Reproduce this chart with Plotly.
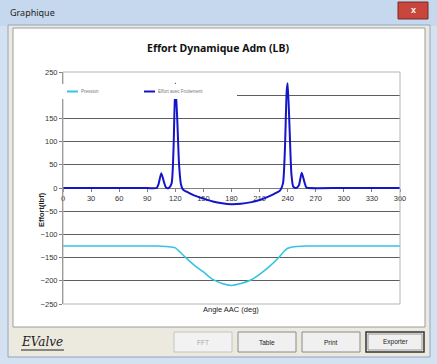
import plotly.graph_objects as go

# ---- data ----
angle_effort = [0, 90, 100, 102, 105, 108, 110, 113, 116, 118, 120, 122, 124, 126, 128, 132, 140, 150, 160, 170,
                180, 190, 200, 210, 220, 228, 232, 235, 237, 239, 240, 242, 244, 246, 249, 252, 255, 258, 260, 262, 300, 360]
effort = [0, 0, 0, 8, 32, 12, 1, 0, 10, 80, 225, 150, 50, 8, -3, -8, -16, -23, -29, -33,
          -35, -34, -31, -26, -18, -10, -5, 10, 80, 210, 226, 130, 30, 3, 0, 6, 33, 12, 1, 0, 0, 0]

angle_pression = [0, 30, 60, 90, 100, 110, 115, 120, 125, 130, 140, 150, 160, 170, 180, 190, 200, 210, 220,
                  230, 235, 240, 245, 250, 260, 300, 360]
pression = [-125, -125, -125, -125, -125, -126, -127, -129, -138, -148, -166, -181, -197, -206, -210, -206, -199,
            -186, -170, -151, -139, -130, -127, -126, -125, -125, -125]

x_ticks = list(range(0, 361, 30))
y_ticks = list(range(-250, 251, 50))

series_names = ["Pression", "Effort avec Frottement"]
title_text = "Effort Dynamique Adm (LB)"
x_title = "Angle AAC (deg)"
y_title = "Effort(lbf)"

# ---- layout geometry (pixels) ----
W, H = 437, 364
L, R, T, B = 63, 400, 72, 304


def px(x):
    return (x - L) / (R - L)


def py(y):
    return (B - y) / (B - T)


def rect(x0, y0, x1, y1, fill, line=None, lw=1, layer="below"):
    return dict(type="rect", xref="paper", yref="paper", x0=px(x0), x1=px(x1), y0=py(y0), y1=py(y1),
                fillcolor=fill, line=dict(color=line or fill, width=lw if line else 0), layer=layer)


def text(x, y, s, size=8, color="#222", anchor="center", bold=False, family="Liberation Sans", angle=0,
         italic=False):
    if bold:
        s = "<b>" + s + "</b>"
    if italic:
        s = "<i>" + s + "</i>"
    return dict(xref="paper", yref="paper", x=px(x), y=py(y), text=s, showarrow=False, xanchor=anchor,
                yanchor="middle", textangle=angle, font=dict(size=size, color=color, family=family))


fig = go.Figure()
fig.add_trace(go.Scatter(x=angle_pression, y=pression, mode="lines", name=series_names[0],
                         line=dict(color="#35c3e4", width=1.6, shape="spline", smoothing=0.6), showlegend=False))
fig.add_trace(go.Scatter(x=angle_effort, y=effort, mode="lines", name=series_names[1],
                         line=dict(color="#1414c8", width=2, shape="spline", smoothing=0.6), showlegend=False))

shapes = [
    # window frame
    rect(0, 0, 437, 26, "#c6d8ee"),
    rect(8, 25, 430, 357, "#ece9df", "#8fa6c4", 1),
    # white panel
    rect(13, 28, 425, 327, "#ffffff", "#9c9c9c", 1),
    # close button
    rect(398, 2, 428, 19, "#c8463c", "#7a2a24", 1),
    # buttons
    rect(174, 332, 232, 352, "#f2f2f2", "#c4c4c4", 1),
    rect(238, 332, 296, 352, "#f0f0f0", "#8a8a8a", 1),
    rect(302, 332, 360, 352, "#f0f0f0", "#8a8a8a", 1),
    rect(366, 332, 424, 352, "#f0f0f0", "#333333", 1.5),
    rect(368, 334, 422, 350, "rgba(0,0,0,0)", "#9a9a9a", 1),
    # plot border
    rect(L, T, R, B, "rgba(0,0,0,0)", "#b4b4b4", 1, layer="above"),
    # legend box (covers part of chart)
    rect(38, 84, 237, 99, "#ffffff", layer="above"),
    dict(type="line", xref="paper", yref="paper", x0=px(67), x1=px(78), y0=py(91.5), y1=py(91.5),
         line=dict(color="#35c3e4", width=2), layer="above"),
    dict(type="line", xref="paper", yref="paper", x0=px(144), x1=px(155), y0=py(91.5), y1=py(91.5),
         line=dict(color="#1414c8", width=2), layer="above"),
    # EValve underline
    dict(type="line", xref="paper", yref="paper", x0=px(21), x1=px(64), y0=py(350), y1=py(350),
         line=dict(color="#222", width=1), layer="above"),
]

annotations = [
    text(8, 12, "Graphique", size=9, color="#1e1e1e", anchor="left", family="Noto Sans"),
    text(413, 10, "x", size=9, color="#ffffff", bold=True),
    text(218, 48, title_text, size=10.5, color="#111", bold=True, family="Noto Sans"),
    text(231, 309, x_title, size=7.5, color="#222", family="Liberation Sans"),
    text(41, 210, y_title, size=7.5, color="#222", angle=-90, bold=True),
    text(79, 91.5, series_names[0], size=4.5, color="#777", anchor="left"),
    text(156, 91.5, series_names[1], size=4.5, color="#777", anchor="left"),
    text(203, 342, "FFT", size=6.5, color="#a8a8a8"),
    text(267, 342, "Table", size=6.5, color="#222"),
    text(331, 342, "Print", size=6.5, color="#222"),
    text(395, 342, "Exporter", size=6.5, color="#222"),
    text(42, 342, "EValve", size=12, color="#222", italic=True, family="DejaVu Serif"),
]

fig.update_layout(
    width=W, height=H,
    margin=dict(l=L, r=W - R, t=T, b=H - B, pad=0),
    paper_bgcolor="#d3e1f1",
    plot_bgcolor="#ffffff",
    shapes=shapes,
    annotations=annotations,
    showlegend=False,
    xaxis=dict(range=[0, 360], tickvals=x_ticks, anchor="free", position=0.5, showgrid=False,
               zeroline=False, showline=True, linecolor="#808080", linewidth=1, ticks="outside",
               ticklen=3, tickcolor="#808080", tickfont=dict(size=7.5, color="#333", family="Liberation Sans"),
               layer="below traces", fixedrange=True),
    yaxis=dict(range=[-250, 250], tickvals=y_ticks, showgrid=True, gridcolor="#5e5e5e", gridwidth=1,
               zeroline=False, showline=True, linecolor="#808080", linewidth=1, ticks="outside",
               ticklen=3, tickcolor="#808080", tickfont=dict(size=7.5, color="#333", family="Liberation Sans"),
               layer="below traces", fixedrange=True),
)

fig.write_html("out.html", config={"displayModeBar": False},
               post_script="document.body.style.margin='0px';document.body.style.overflow='hidden';")
